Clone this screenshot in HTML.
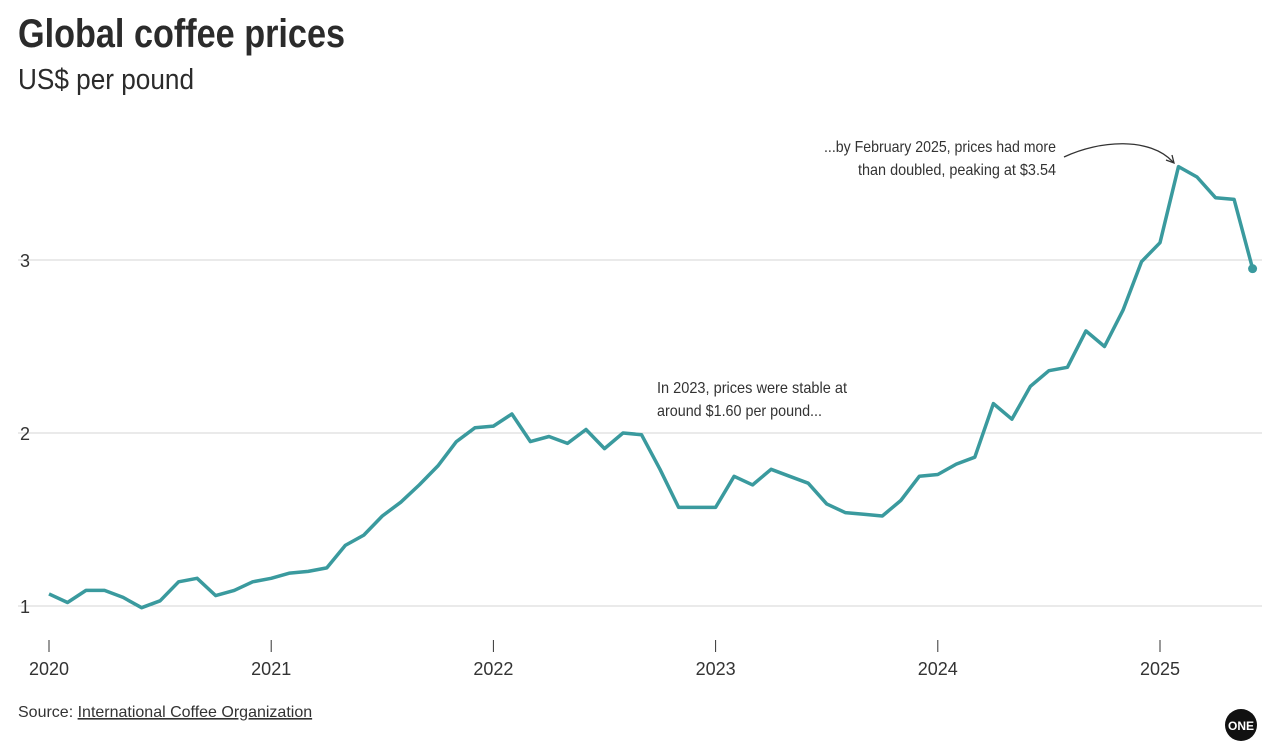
<!DOCTYPE html>
<html><head><meta charset="utf-8"><style>
html,body{margin:0;padding:0;background:#fff;}
svg{display:block;font-family:"Liberation Sans Narrow","Liberation Sans",sans-serif;}
</style></head><body>
<svg id="chart" width="1272" height="754" viewBox="0 0 1272 754">
<text x="18" y="47" font-size="40" font-weight="bold" fill="#2b2b2b" textLength="327" lengthAdjust="spacingAndGlyphs">Global coffee prices</text>
<text x="18" y="89" font-size="29" fill="#2b2b2b" textLength="176" lengthAdjust="spacingAndGlyphs">US$ per pound</text>
<g id="grid"></g>
<g id="xaxis"></g>
<path id="series" fill="none" stroke="#3a9a9e" stroke-width="3.5" stroke-linejoin="round"/>
<circle id="lastdot" r="4.5" fill="#3a9a9e"/>
<text x="657" y="393" font-size="16" fill="#333" textLength="190" lengthAdjust="spacingAndGlyphs">In 2023, prices were stable at</text>
<text x="657" y="416" font-size="16" fill="#333" textLength="165" lengthAdjust="spacingAndGlyphs">around $1.60 per pound...</text>
<text x="824" y="152" font-size="16" fill="#333" textLength="232" lengthAdjust="spacingAndGlyphs">...by February 2025, prices had more</text>
<text x="858" y="175" font-size="16" fill="#333" textLength="198" lengthAdjust="spacingAndGlyphs">than doubled, peaking at $3.54</text>
<path d="M1064,157 C1100,140 1150,137 1173,162" fill="none" stroke="#333" stroke-width="1.3"/>
<path d="M1166,160 L1174,163 L1172,155" fill="none" stroke="#333" stroke-width="1.3"/>
<text x="18" y="717" font-size="16" fill="#333">Source: <tspan text-decoration="underline">International Coffee Organization</tspan></text>
<circle cx="1241" cy="725" r="16" fill="#111"/>
<text x="1241" y="730" font-size="12" font-weight="bold" fill="#fff" text-anchor="middle">ONE</text>
</svg>
<script>
const yTicks = [1, 2, 3];
const yearLabels = ["2020","2021","2022","2023","2024","2025"];
const prices = [1.07,1.02,1.09,1.09,1.05,0.99,1.03,1.14,1.16,1.06,1.09,1.14,
1.16,1.19,1.20,1.22,1.35,1.41,1.52,1.60,1.70,1.81,1.95,2.03,
2.04,2.11,1.95,1.98,1.94,2.02,1.91,2.00,1.99,1.79,1.57,1.57,
1.57,1.75,1.70,1.79,1.75,1.71,1.59,1.54,1.53,1.52,1.61,1.75,
1.76,1.82,1.86,2.17,2.08,2.27,2.36,2.38,2.59,2.50,2.71,2.99,
3.10,3.54,3.48,3.36,3.35,2.95];
const NS="http://www.w3.org/2000/svg";
const x = m => 49 + m * (1160-49)/60;
const y = v => 606 - (v-1)*173;
const grid=document.getElementById('grid');
yTicks.forEach(t=>{
  const l=document.createElementNS(NS,'line');
  l.setAttribute('x1',18);l.setAttribute('x2',1262);
  l.setAttribute('y1',y(t));l.setAttribute('y2',y(t));
  l.setAttribute('stroke','#d4d4d4');l.setAttribute('stroke-width','1');
  
  
  grid.appendChild(l);
  const tx=document.createElementNS(NS,'text');
  tx.setAttribute('x',20);tx.setAttribute('y',y(t)+7);
  tx.setAttribute('font-size','18');tx.setAttribute('fill','#333');
  tx.textContent=t;
  
  
  grid.appendChild(tx);
});
const xa=document.getElementById('xaxis');
yearLabels.forEach((lab,i)=>{
  const xx=x(i*12);
  const l=document.createElementNS(NS,'line');
  l.setAttribute('x1',xx);l.setAttribute('x2',xx);
  l.setAttribute('y1',640);l.setAttribute('y2',652);
  l.setAttribute('stroke','#333');
  
  
  xa.appendChild(l);
  const tx=document.createElementNS(NS,'text');
  tx.setAttribute('x',xx);tx.setAttribute('y',675);
  tx.setAttribute('font-size','18');tx.setAttribute('fill','#333');
  tx.setAttribute('text-anchor','middle');
  tx.textContent=lab;
  
  
  xa.appendChild(tx);
});
document.getElementById('series').setAttribute('d',
  prices.map((v,i)=>(i?'L':'M')+x(i).toFixed(1)+','+y(v).toFixed(1)).join(' '));
const d=document.getElementById('lastdot');
d.setAttribute('cx',x(prices.length-1));
d.setAttribute('cy',y(prices[prices.length-1]));
</script>
</body></html>
